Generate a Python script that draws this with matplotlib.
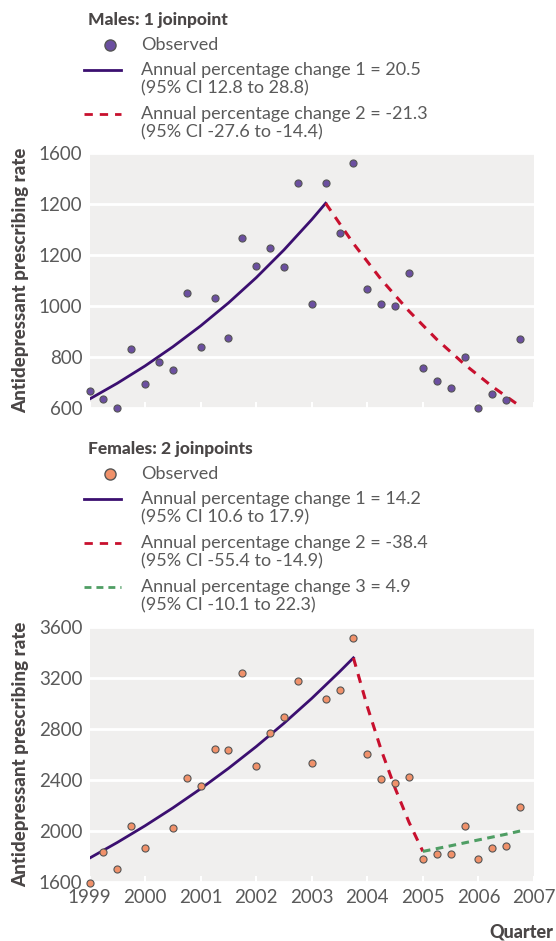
import matplotlib as mpl

mpl.use("Agg")

import matplotlib.pyplot as plt
import numpy as np
from matplotlib.lines import Line2D

# quarters 1999 Q1 .. 2006 Q4
quarters = np.arange(1999.0, 2007.0, 0.25)

male_observed = [
    667, 634, 599, 830, 693, 779, 749, 1052,
    838, 1030, 875, 1268, 1158, 1227, 1153, 1484,
    1009, 1481, 1285, 1562, 1068, 1009, 1000, 1131,
    756, 706, 680, 799, 599, 656, 633, 871,
]
female_observed = [
    1590, 1834, 1701, 2040, 1865, np.nan, 2026, 2418,
    2356, 2640, 2634, 3240, 2510, 2767, 2897, 3178,
    2535, 3037, 3102, 3510, 2603, 2411, 2380, 2424,
    1782, 1821, 1818, 2042, 1779, 1870, 1883, 2190,
]

# fitted joinpoint segments
male_fit1_x = [1999.0, 1999.5, 2000.0, 2000.5, 2001.0, 2001.5, 2002.0, 2002.5, 2003.0, 2003.25]
male_fit1_y = [635, 697, 765, 840, 922, 1012, 1111, 1220, 1339, 1403]
male_fit2_x = [2003.25, 2003.75, 2004.25, 2004.75, 2005.25, 2005.75, 2006.25, 2006.75]
male_fit2_y = [1403, 1245, 1104, 980, 869, 771, 684, 607]

female_fit1_x = [1999.0, 1999.5, 2000.0, 2000.5, 2001.0, 2001.5, 2002.0, 2002.5, 2003.0, 2003.5, 2003.75]
female_fit1_y = [1787, 1910, 2041, 2181, 2331, 2491, 2662, 2845, 3040, 3249, 3358]
female_fit2_x = [2003.75, 2004.0, 2004.25, 2004.5, 2004.75, 2005.0]
female_fit2_y = [3358, 2976, 2636, 2336, 2069, 1840]
female_fit3_x = [2005.0, 2005.5, 2006.0, 2006.5, 2006.75]
female_fit3_y = [1840, 1884, 1930, 1975, 2000]

male_yticks = [600, 800, 1000, 1200, 1400, 1600]
male_ytick_labels = ["600", "800", "1000", "1200", "1200", "1600"]
female_yticks = [1600, 2000, 2400, 2800, 3200, 3600]
year_ticks = list(range(1999, 2008))

male_legend = [
    ("Annual percentage change 1 = 20.5", "(95% CI 12.8 to 28.8)"),
    ("Annual percentage change 2 = -21.3", "(95% CI -27.6 to -14.4)"),
]
female_legend = [
    ("Annual percentage change 1 = 14.2", "(95% CI 10.6 to 17.9)"),
    ("Annual percentage change 2 = -38.4", "(95% CI -55.4 to -14.9)"),
    ("Annual percentage change 3 = 4.9", "(95% CI -10.1 to 22.3)"),
]

plt.rcParams["font.family"] = ["Lato", "DejaVu Sans"]

BG = "#f0efee"
TEXT = "#5a5a5a"
DARK = "#4a4646"
PURPLE = "#3b0f70"
RED = "#c8102e"
GREEN = "#4f9e64"
MALE_DOT = "#6b4fa0"
FEMALE_DOT = "#f0916a"

W, H = 556, 941
fig = plt.figure(figsize=(W / 100, H / 100), dpi=100)


def fx(px):
    return px / W


def fy(py):
    return 1 - py / H


def make_axes(top, bottom):
    ax = fig.add_axes([fx(89.5), fy(bottom), fx(534 - 89.5), (bottom - top) / H])
    ax.set_facecolor(BG)
    for s in ax.spines.values():
        s.set_visible(False)
    ax.set_xlim(1999, 2007)
    ax.set_xticks(year_ticks)
    ax.grid(axis="y", color="white", linewidth=2)
    ax.set_axisbelow(True)
    ax.tick_params(axis="x", direction="in", color="white", width=1.5, length=4, labelsize=13.5, labelcolor=TEXT, pad=5)
    ax.tick_params(axis="y", length=0, labelsize=13.5, labelcolor=TEXT, pad=5)
    return ax


def legend_block(title, title_y, dot_color, rows, styles):
    fig.text(fx(88), fy(title_y), title, fontsize=12.5, fontweight="black", color=DARK, va="center", ha="left")
    oy = title_y + 25
    fig.add_artist(Line2D([fx(110)], [fy(oy)], marker="o", markersize=8, markerfacecolor=dot_color,
                          markeredgecolor="#555555", markeredgewidth=1, transform=fig.transFigure))
    fig.text(fx(141), fy(oy), "Observed", fontsize=13, color=TEXT, va="center", ha="left")
    y = oy + 25
    for (l1, l2), (color, ls) in zip(rows, styles):
        fig.add_artist(Line2D([fx(84), fx(121)], [fy(y), fy(y)], color=color, linewidth=2, linestyle=ls,
                              transform=fig.transFigure))
        fig.text(fx(141), fy(y), l1, fontsize=13, color=TEXT, va="center", ha="left")
        fig.text(fx(141), fy(y + 18), l2, fontsize=13, color=TEXT, va="center", ha="left")
        y += 44


# males
legend_block("Males: 1 joinpoint", 20, MALE_DOT, male_legend,
             [(PURPLE, "-"), (RED, (0, (3, 2.5)))])
ax1 = make_axes(153, 408)
ax1.set_ylim(600, 1600)
ax1.set_yticks(male_yticks)
ax1.set_yticklabels(male_ytick_labels)
ax1.tick_params(axis="x", labelbottom=False)
ax1.plot(male_fit1_x, male_fit1_y, color=PURPLE, linewidth=2, zorder=2)
ax1.plot(male_fit2_x, male_fit2_y, color=RED, linewidth=2.2, linestyle=(0, (3, 2.5)), zorder=2)
ax1.scatter(quarters, male_observed, s=26, color=MALE_DOT, edgecolor="#555555", linewidth=0.8, zorder=3, clip_on=False)
ax1.set_ylabel("Antidepressant prescribing rate", fontsize=13.5, fontweight="black", color=DARK, labelpad=7)

# females
legend_block("Females: 2 joinpoints", 449, FEMALE_DOT, female_legend,
             [(PURPLE, "-"), (RED, (0, (3, 2.5))), (GREEN, (0, (2.5, 1.8)))])
ax2 = make_axes(627, 882)
ax2.set_ylim(1600, 3600)
ax2.set_yticks(female_yticks)
ax2.plot(female_fit1_x, female_fit1_y, color=PURPLE, linewidth=2, zorder=2)
ax2.plot(female_fit2_x, female_fit2_y, color=RED, linewidth=2.2, linestyle=(0, (3, 2.5)), zorder=2)
ax2.plot(female_fit3_x, female_fit3_y, color=GREEN, linewidth=2.2, linestyle=(0, (2.5, 1.8)), zorder=2)
ax2.scatter(quarters, female_observed, s=26, color=FEMALE_DOT, edgecolor="#555555", linewidth=0.8, zorder=3, clip_on=False)
ax2.set_ylabel("Antidepressant prescribing rate", fontsize=13.5, fontweight="black", color=DARK, labelpad=7)

fig.text(fx(553), fy(932), "Quarter", fontsize=13, fontweight="black", color=DARK, ha="right", va="center")

fig.savefig("out.png", dpi=100)
